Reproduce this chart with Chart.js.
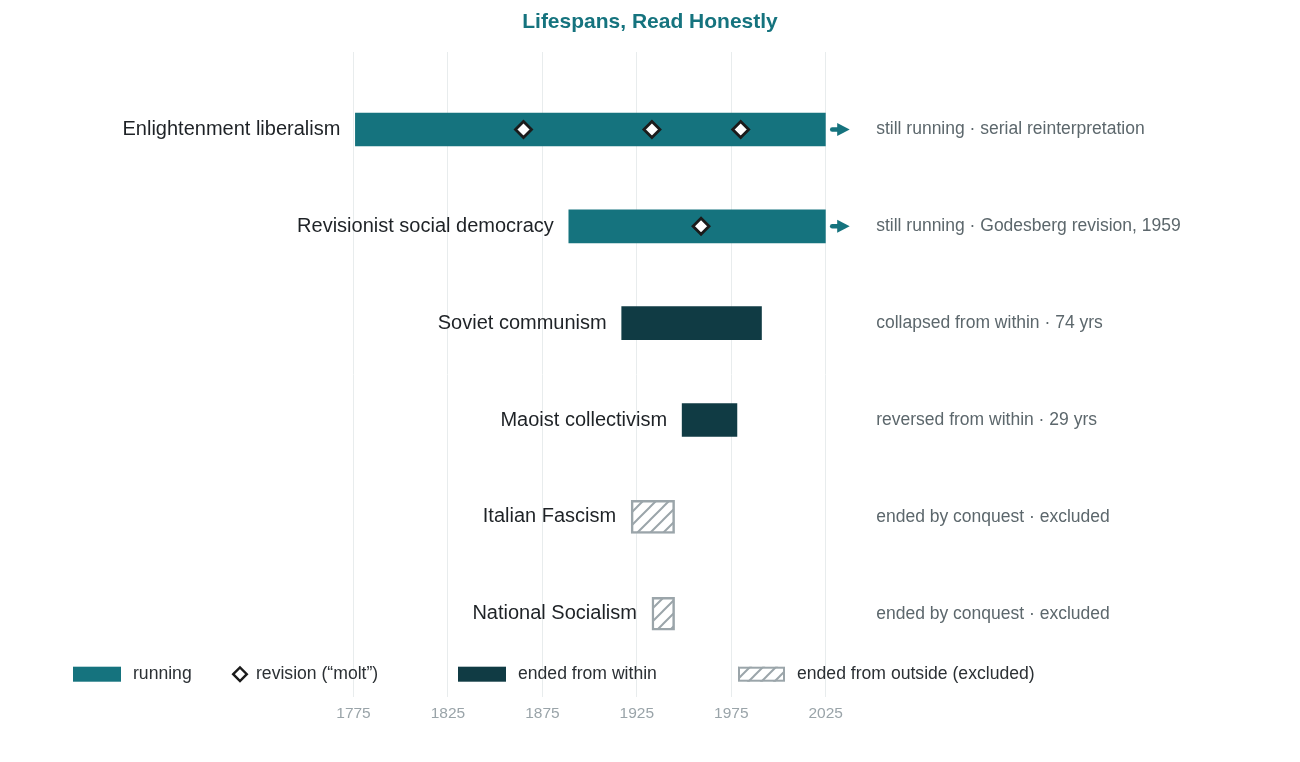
<!DOCTYPE html>
<html>
<head>
<meta charset="utf-8">
<title>Lifespans, Read Honestly</title>
<script src="https://cdn.jsdelivr.net/npm/chart.js@4.4.1/dist/chart.umd.min.js"></script>
<style>
  html, body { margin: 0; padding: 0; background: #ffffff; }
  #wrap { width: 1300px; height: 762px; position: relative; }
</style>
</head>
<body>
<div id="wrap"><canvas id="c"></canvas></div>
<script>
// ---------------- DATA ----------------
const categories = [
  "Enlightenment liberalism",
  "Revisionist social democracy",
  "Soviet communism",
  "Maoist collectivism",
  "Italian Fascism",
  "National Socialism"
];
const startYears = [1776, 1889, 1917, 1949, 1922, 1933];
const endYears   = [2025, 2025, 1991, 1978, 1945, 1945];
const fates      = ["running", "running", "within", "within", "outside", "outside"];
const annotations = [
  "still running · serial reinterpretation",
  "still running · Godesberg revision, 1959",
  "collapsed from within · 74 yrs",
  "reversed from within · 29 yrs",
  "ended by conquest · excluded",
  "ended by conquest · excluded"
];
const revisionRows  = [0, 0, 0, 1];
const revisionYears = [1865, 1933, 1980, 1959];
const xTicks = [1775, 1825, 1875, 1925, 1975, 2025];
const legendLabels = ["running", "revision (“molt”)", "ended from within", "ended from outside (excluded)"];
const titleText = "Lifespans, Read Honestly";

// ---------------- STYLE ----------------
const FONT = '"Liberation Sans", Arial, Helvetica, sans-serif';
const TEAL = '#15737e';
const DARK = '#103b44';
const HATCH = '#9ba5aa';
const GRID = '#e8eced';
const TICK = '#9aa4a9';
const LABEL = '#1e2226';
const NOTE = '#5c676c';
const LEGEND_TXT = '#2b3034';

const canvas = document.getElementById('c');
const mainCtx = canvas.getContext('2d');

function makeHatch() {
  const s = 13;
  const c = document.createElement('canvas');
  c.width = s; c.height = s;
  const g = c.getContext('2d');
  g.fillStyle = '#ffffff';
  g.fillRect(0, 0, s, s);
  g.strokeStyle = HATCH;
  g.lineWidth = 2;
  g.beginPath();
  g.moveTo(-1, s + 1); g.lineTo(s + 1, -1);
  g.moveTo(-1, 1); g.lineTo(1, -1);
  g.moveTo(s - 1, s + 1); g.lineTo(s + 1, s - 1);
  g.stroke();
  return mainCtx.createPattern(c, 'repeat');
}
const hatch = makeHatch();

function fateFill(f) { return f === 'running' ? TEAL : (f === 'within' ? DARK : hatch); }

function diamond(ctx, cx, cy, r, lw) {
  ctx.beginPath();
  ctx.moveTo(cx - r, cy);
  ctx.lineTo(cx, cy - r);
  ctx.lineTo(cx + r, cy);
  ctx.lineTo(cx, cy + r);
  ctx.closePath();
  ctx.fillStyle = '#ffffff';
  ctx.fill();
  ctx.lineWidth = lw;
  ctx.strokeStyle = '#1b1b1b';
  ctx.stroke();
}

function arrow(ctx, x0, yc) {
  ctx.save();
  ctx.strokeStyle = TEAL;
  ctx.fillStyle = TEAL;
  ctx.lineWidth = 4.5;
  ctx.lineCap = 'round';
  ctx.beginPath();
  ctx.moveTo(x0 + 6.5, yc);
  ctx.lineTo(x0 + 14, yc);
  ctx.stroke();
  ctx.beginPath();
  ctx.moveTo(x0 + 11.5, yc - 6.5);
  ctx.lineTo(x0 + 24, yc);
  ctx.lineTo(x0 + 11.5, yc + 6.5);
  ctx.closePath();
  ctx.fill();
  ctx.restore();
}

const decor = {
  id: 'decor',
  afterDraw(chart) {
    const { ctx, chartArea } = chart;
    const x = chart.scales.x, y = chart.scales.y;
    ctx.save();
    ctx.textBaseline = 'middle';
    categories.forEach((name, i) => {
      const yc = y.getPixelForValue(i);
      const xs = x.getPixelForValue(startYears[i]);
      ctx.font = '20px ' + FONT;
      ctx.fillStyle = LABEL;
      ctx.textAlign = 'right';
      ctx.fillText(name, xs - 15, yc);
      ctx.font = '17.5px ' + FONT;
      ctx.fillStyle = NOTE;
      ctx.textAlign = 'left';
      ctx.fillText(annotations[i], chartArea.right + 50.5, yc);
      if (fates[i] === 'running') {
        arrow(ctx, x.getPixelForValue(endYears[i]), yc);
      }
    });

    // legend
    const ly = 674.2;
    ctx.font = '17.6px ' + FONT;
    ctx.textAlign = 'left';
    ctx.fillStyle = TEAL;
    ctx.fillRect(73, ly - 7.5, 48, 15);
    ctx.fillStyle = LEGEND_TXT;
    ctx.fillText(legendLabels[0], 133, ly);

    diamond(ctx, 240, ly, 6.8, 2.4);
    ctx.fillStyle = LEGEND_TXT;
    ctx.fillText(legendLabels[1], 256, ly);

    ctx.fillStyle = DARK;
    ctx.fillRect(458, ly - 7.5, 48, 15);
    ctx.fillStyle = LEGEND_TXT;
    ctx.fillText(legendLabels[2], 518, ly);

    ctx.fillStyle = hatch;
    ctx.fillRect(738, ly - 7.5, 47, 15);
    ctx.strokeStyle = HATCH;
    ctx.lineWidth = 2;
    ctx.strokeRect(739, ly - 6.5, 45, 13);
    ctx.fillStyle = LEGEND_TXT;
    ctx.fillText(legendLabels[3], 797, ly);
    ctx.restore();
  }
};

new Chart(canvas, {
  type: 'bar',
  data: {
    datasets: [
      {
        type: 'scatter',
        order: 0,
        data: revisionYears.map((yr, k) => ({ x: yr, y: revisionRows[k] })),
        pointStyle: 'rectRot',
        pointRadius: 8,
        pointHoverRadius: 8,
        pointBackgroundColor: '#ffffff',
        pointBorderColor: '#1b1b1b',
        pointBorderWidth: 2.8,
        pointHoverBorderWidth: 2.8
      },
      {
        type: 'bar',
        indexAxis: 'y',
        order: 1,
        data: categories.map((c, i) => ({ x: [startYears[i], endYears[i]], y: i })),
        backgroundColor: fates.map(fateFill),
        borderColor: fates.map(f => f === 'outside' ? HATCH : 'rgba(0,0,0,0)'),
        borderWidth: fates.map(f => f === 'outside' ? 2.5 : 0),
        borderSkipped: false,
        barThickness: 33,
        grouped: false
      }
    ]
  },
  options: {
    responsive: true,
    maintainAspectRatio: false,
    animation: false,
    events: [],
    layout: { padding: { top: 0, left: 0, right: 0, bottom: 32.4 } },
    plugins: {
      legend: { display: false },
      tooltip: { enabled: false },
      title: {
        display: true,
        text: titleText,
        color: TEAL,
        font: { family: FONT, size: 21, weight: 'bold' },
        padding: { top: 10, bottom: 16.8 }
      }
    },
    scales: {
      x: {
        type: 'linear',
        position: 'bottom',
        min: xTicks[0],
        max: xTicks[xTicks.length - 1],
        offset: false,
        beginAtZero: false,
        afterBuildTicks: s => { s.ticks = xTicks.map(v => ({ value: v })); },
        grid: { color: GRID, lineWidth: 1, drawTicks: false, offset: false },
        border: { display: false },
        ticks: {
          color: TICK,
          font: { family: FONT, size: 15.5 },
          padding: 7,
          maxRotation: 0,
          autoSkip: false,
          callback: v => String(v)
        }
      },
      y: {
        type: 'linear',
        position: 'left',
        reverse: true,
        min: -0.8,
        max: 5.86,
        offset: false,
        beginAtZero: false,
        grid: { display: false, drawTicks: false, offset: false },
        border: { display: false },
        ticks: { display: false },
        afterFit: s => { s.width = 353.5; }
      },
      y2: {
        type: 'linear',
        position: 'right',
        offset: false,
        grid: { display: false, drawTicks: false },
        border: { display: false },
        ticks: { display: false },
        afterFit: s => { s.width = 474.3; }
      }
    }
  },
  plugins: [decor]
});
</script>
</body>
</html>
